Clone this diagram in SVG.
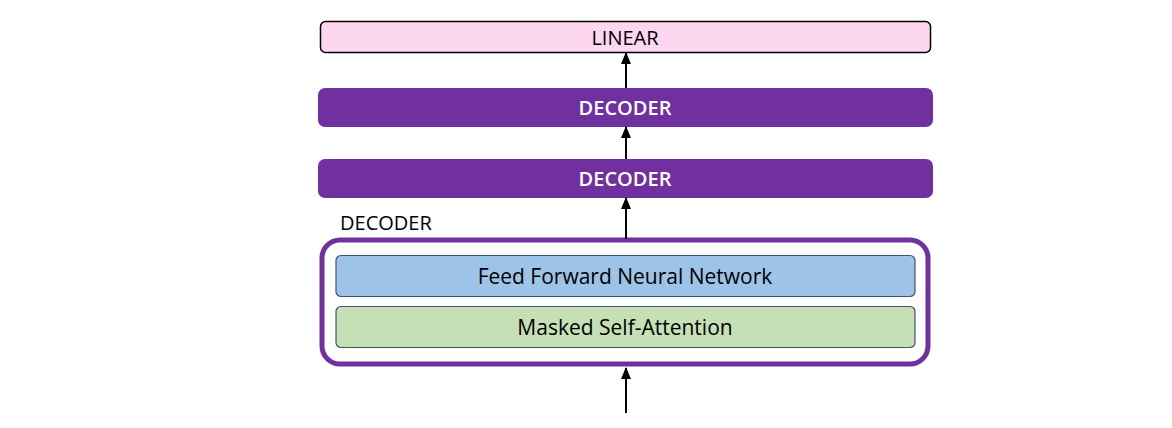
<svg xmlns="http://www.w3.org/2000/svg" width="1172" height="428" viewBox="0 0 1172 428">
<style>
text{font-family:"Open Sans","Liberation Sans",sans-serif;text-anchor:middle;dominant-baseline:central}
.dec rect{fill:#7030A0}
.dec text{fill:#fff;font-size:20px;font-weight:600}
.conn line{stroke:#000;stroke-width:2;marker-end:url(#ah)}
</style>
<defs>
<marker id="ah" viewBox="0 0 12 10" refX="11" refY="5" markerWidth="13" markerHeight="10" markerUnits="userSpaceOnUse" orient="auto">
<path d="M0,0 L12,5 L0,10 z" fill="#000"/>
</marker>
</defs>
<rect width="1172" height="428" fill="#fff"/>
<g id="linear">
<rect x="320.5" y="21.5" width="610" height="31" rx="5" fill="#FDD7F0" stroke="#000" stroke-width="1.5"/>
<text x="625" y="37" font-size="20" fill="#000">LINEAR</text>
</g>
<g id="decoder2" class="dec">
<rect x="318" y="88" width="615" height="39" rx="7"/>
<text x="625" y="107.5">DECODER</text>
</g>
<g id="decoder1" class="dec">
<rect x="318" y="159" width="615" height="39" rx="7"/>
<text x="625" y="178.5">DECODER</text>
</g>
<g id="decoder-detail">
<text x="340" y="222" font-size="20" fill="#000" style="text-anchor:start">DECODER</text>
<rect x="322" y="240" width="606" height="124" rx="18" fill="#fff" stroke="#7030A0" stroke-width="5"/>
<g id="ffnn">
<rect x="336" y="255.5" width="579" height="41" rx="5" fill="#9DC3E6" stroke="#41546E" stroke-width="1.2"/>
<text x="625" y="276" font-size="21" fill="#000">Feed Forward Neural Network</text>
</g>
<g id="msa">
<rect x="336" y="306.5" width="579" height="41" rx="5" fill="#C5E0B4" stroke="#41546E" stroke-width="1.2"/>
<text x="625" y="327" font-size="21" fill="#000">Masked Self-Attention</text>
</g>
</g>
<g class="conn">
<line x1="626" y1="413" x2="626" y2="368"/>
<line x1="626" y1="239" x2="626" y2="198"/>
<line x1="626" y1="159" x2="626" y2="127"/>
<line x1="626" y1="88" x2="626" y2="53"/>
</g>
</svg>
